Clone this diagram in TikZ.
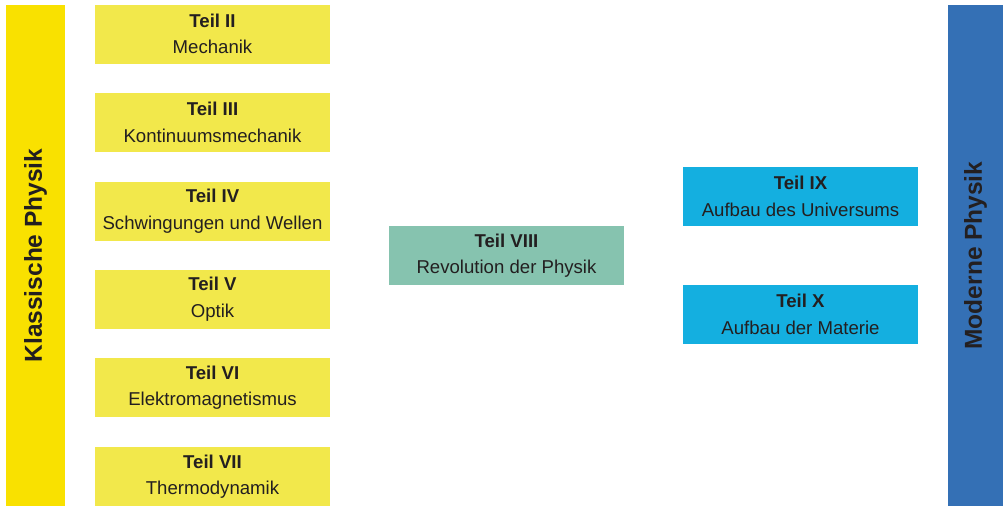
\documentclass[tikz,border=0pt]{standalone}
\usepackage{fontspec}
\setmainfont{Liberation Sans}
\definecolor{barYellow}{HTML}{F9E100}
\definecolor{boxYellow}{HTML}{F2E84B}
\definecolor{boxTeal}{HTML}{86C3AF}
\definecolor{boxBlue}{HTML}{14AFE0}
\definecolor{barBlue}{HTML}{3470B5}
\definecolor{ink}{HTML}{231F20}
\begin{document}
\begin{tikzpicture}[x=1pt,y=-1pt,
  part/.style={minimum width=235pt, minimum height=59pt, inner sep=0pt,
    align=center, text=ink, font=\fontsize{18.6}{26.5}\selectfont},
  yellowpart/.style={part, fill=boxYellow},
  tealpart/.style={part, fill=boxTeal},
  bluepart/.style={part, fill=boxBlue},
  sidebar/.style={minimum width=501pt, inner sep=0pt,
    text=ink, font=\fontsize{24.5}{26}\selectfont\bfseries}]
\useasboundingbox (0,0) rectangle (1003,506);
% side bars (rotated: width runs along the text)
\node[sidebar, fill=barYellow, minimum height=59pt, rotate=90] (klass) at (35.5,255.5) {Klassische Physik};
\node[sidebar, fill=barBlue, minimum height=55pt, rotate=90] (modern) at (975.5,255.5) {Moderne Physik};
% classical parts
\node[yellowpart] (p2) at (212.5,34) {\textbf{Teil II}\\Mechanik};
\node[yellowpart] (p3) at (212.5,122.5) {\textbf{Teil III}\\Kontinuumsmechanik};
\node[yellowpart] (p4) at (212.5,211) {\textbf{Teil IV}\\Schwingungen und Wellen};
\node[yellowpart] (p5) at (212.5,299) {\textbf{Teil V}\\Optik};
\node[yellowpart] (p6) at (212.5,387.5) {\textbf{Teil VI}\\Elektromagnetismus};
\node[yellowpart] (p7) at (212.5,476.5) {\textbf{Teil VII}\\Thermodynamik};
% transition
\node[tealpart] (p8) at (506.5,255.5) {\textbf{Teil VIII}\\Revolution der Physik};
% modern parts
\node[bluepart] (p9) at (800.5,196.5) {\textbf{Teil IX}\\Aufbau des Universums};
\node[bluepart] (p10) at (800.5,314.5) {\textbf{Teil X}\\Aufbau der Materie};
\end{tikzpicture}
\end{document}
